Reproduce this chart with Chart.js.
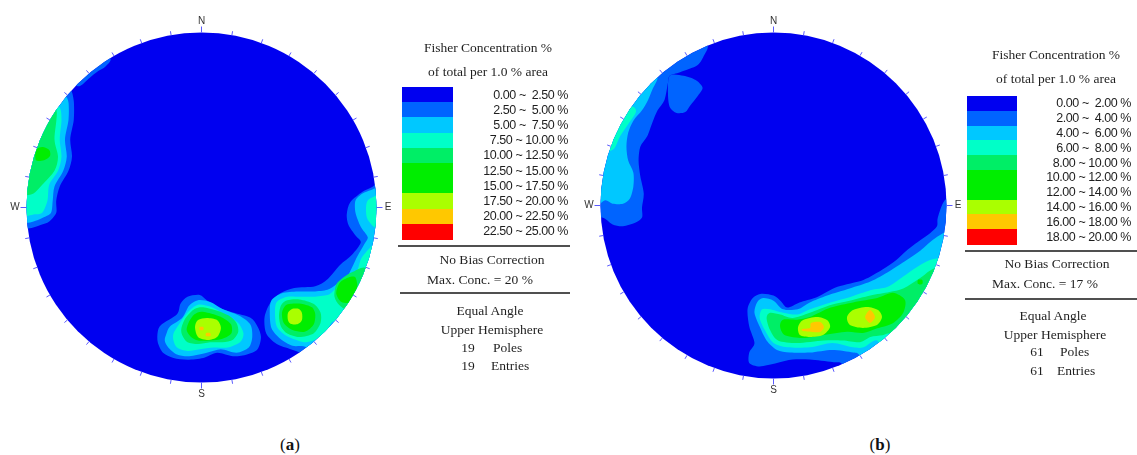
<!DOCTYPE html>
<html lang="en">
<head>
<meta charset="utf-8">
<title>Fisher concentration stereonets</title>
<script src="https://cdn.jsdelivr.net/npm/chart.js@4.4.1/dist/chart.umd.min.js"></script>
<style>
  html, body { margin: 0; padding: 0; background: #fff; }
  #page { position: relative; width: 1137px; height: 455px; overflow: hidden; background: #fff; }
  canvas.net { position: absolute; top: 0; }
  .t { position: absolute; white-space: pre; color: #1e1e1e; }
  .serif { font-family: 'Liberation Serif', 'Times New Roman', serif; font-size: 13.5px; line-height: 16px; }
  .sans { font-family: 'Liberation Sans', Arial, sans-serif; font-size: 12.5px; line-height: 14px; letter-spacing: -0.45px; }
  .rule { position: absolute; height: 1.5px; background: #505050; }
  .swatch { position: absolute; }
  .cap { position: absolute; font-family: 'Liberation Serif', 'Times New Roman', serif; font-size: 17px; line-height: 20px; width: 60px; text-align: center; color: #111; }
</style>
</head>
<body>
<div id="page">
  <canvas id="netA" class="net" width="400" height="416"></canvas>
  <canvas id="netB" class="net" width="400" height="416"></canvas>
</div>
<script>
// ---- contour classes (Fisher concentration, % of total per 1 % area) ----
const CLASS_COLORS = ['#0000F0', '#0064FF', '#00C8FF', '#00FFC8', '#00EE66',
                      '#00EE00', '#00EE00', '#AAFF00', '#FFC800', '#FF0000'];
const breaksA = [0, 2.5, 5, 7.5, 10, 12.5, 15, 17.5, 20, 22.5, 25];
const breaksB = [0, 2, 4, 6, 8, 10, 12, 14, 16, 18, 20];
const statsA = { maxConc: 20, poles: 19, entries: 19 };
const statsB = { maxConc: 17, poles: 61, entries: 61 };
const compassLabels = ['N', 'E', 'S', 'W'];

// ---- contour rings, net coordinates (primitive radius = 100, x east, y north) ----
// (a) 19 poles
const A_W1  = [[-81,73],[-75,68],[-73,61],[-73,50],[-75,39],[-74,29],[-76,21],[-81,12],[-83,4],[-83,-3],[-87,-8],[-92,-10],[-99,-12],[-110,-12],[-110,73]];
const A_NW1 = [[-72,70],[-68.5,70],[-64,74],[-59,78],[-55,80.5],[-52,85],[-60,90],[-80,80]];
const A_W2  = [[-84,67],[-78,64],[-76,60],[-76,50],[-78,39],[-77,29],[-79,21],[-84,12],[-85,4],[-86,-3],[-91,-6],[-96,-8],[-101,-9],[-110,-9],[-110,67]];
const A_W3  = [[-87,61],[-81,57],[-80,50],[-81,39],[-80,29],[-82,21],[-87,13],[-88,4],[-91,-3],[-96,-4],[-101,-5],[-110,-5],[-110,61]];
const A_W4  = [[-92,59],[-83,56],[-84,39],[-82,29],[-84,21],[-91,13],[-96,8],[-101,7],[-110,7],[-110,59]];
const A_W6  = [[-94.6,32.9],[-91,34.6],[-87,32.9],[-86.6,29.4],[-90,27],[-94.6,27]];

const A_E1  = [[102,16],[98,12],[92,9],[85,3],[83,-4],[84,-10],[88,-16],[91,-20],[86,-27],[79,-33],[72,-41],[65,-45],[53,-46],[45,-49],[39,-55],[36,-63],[37,-72],[43,-78],[51,-81],[58,-84],[68,-93],[113,-93],[113,16]];
const A_E2  = [[105,13],[97,10],[92,8],[88,4],[88,-3],[91,-11],[95,-17],[93,-21],[89,-28],[83,-40],[77,-44],[72,-47],[64,-48],[55,-48],[46,-49],[40,-53],[39,-60],[40,-69],[45,-75],[52,-79],[60,-80],[68,-90],[113,-90],[113,13]];
const A_E3a = [[105,10],[100,7],[95,4],[94,-1],[95,-7],[101,-12],[110,-5]];
const A_E3b = [[102,-19],[92,-28],[89,-36],[85,-40],[80,-43],[75,-48],[72,-50],[64,-51],[56,-51],[49,-51],[43,-54],[42,-60],[43,-68],[48,-73],[55,-76],[60,-77],[66,-75],[72,-70],[76,-65],[91,-70],[108,-30]];
const A_E4a = [[81,-40],[86,-37],[94,-35],[93,-53],[85,-59],[79,-56],[76,-51],[77,-44]];
const A_E4b = [[49,-53],[56,-52.5],[64,-55],[68,-60],[68,-66],[64,-72],[56,-74],[49,-72],[45.4,-68],[44.3,-62],[45.4,-56]];
const A_E6a = [[79,-43],[84,-40],[88,-40],[89,-47],[86,-54],[80,-54],[77,-49]];
const A_E6b = [[51,-55],[57,-55],[63,-57],[65,-61],[64,-67],[59,-71],[52,-70],[47,-66],[46,-60],[48,-56]];
const A_E7b = [[51.7,-58],[55.7,-58],[57.4,-60.3],[57.4,-64.3],[55.1,-66.6],[51.1,-66.6],[49.4,-64.3],[49.4,-60.3]];

const A_S1  = [[-25,-71],[-23,-67],[-14,-61],[-12,-55],[-8,-51],[-1,-50],[3,-53],[9,-57],[18,-60],[28,-63],[32,-68],[34,-74],[32,-81],[26,-84],[18,-85],[9,-83],[1,-86],[-8,-87],[-16,-86],[-22,-83],[-25,-77]];
const A_S2  = [[-20,-72],[-18,-68],[-11,-63],[-7,-56],[-2,-53],[5,-54],[12,-58],[22,-62],[28,-67],[29,-74],[27,-80],[20,-83],[11,-81],[3,-83],[-7,-85],[-14,-84],[-19,-80],[-21,-76]];
const A_S3  = [[-16,-72],[-13,-67],[-8,-60],[-2,-55.5],[6,-57],[15,-62],[21,-66],[24,-72],[22,-77],[15,-80],[7,-80],[-1,-81],[-8,-82],[-14,-80],[-16,-76]];
const A_S4  = [[-11.5,-69],[-9,-63],[-4,-58],[1,-57],[9,-59],[16,-62],[20,-66],[21,-71],[18,-75.5],[12,-77],[5,-77],[-2,-78],[-8,-77],[-11,-73]];
const A_S6  = [[-8.5,-70],[-7,-65],[-4,-61],[0,-59.5],[7,-61],[13,-63.5],[17,-67],[17,-72],[12,-75],[5,-76],[-2,-76],[-6,-74]];
const A_S7  = [[-3.7,-68.3],[-2,-64.3],[3.1,-63.1],[8.9,-64.3],[11.1,-68.9],[8.9,-74],[3.7,-75.7],[-2,-74]];
const A_S8a = [[-1,-68.3],[1,-68.3],[1,-70],[-1,-70]];
const A_S8b = [[2.6,-71.8],[5,-71.8],[5,-73.4],[2.6,-73.4]];

// (b) 61 poles
const B_W1  = [[-42,99],[-38,92],[-40,87],[-44,81],[-54,77],[-60,75],[-61,71],[-63,61],[-67,55],[-70,48],[-73,40],[-77,34],[-78,26],[-77,17],[-75,7],[-76,-1],[-76,-7],[-80,-10],[-87,-12],[-93,-11],[-99,-7],[-109,-8],[-109,61],[-77,96]];
const B_NW1 = [[-60,75],[-52,75],[-45,72.5],[-41,68],[-44,63],[-48,58],[-51,54],[-56,53.5],[-60,57],[-61,65]];
const B_W2  = [[-71,78],[-67,74],[-70,67],[-72.5,61],[-76,55],[-81,49],[-84,42],[-85,34],[-84,26],[-81,19],[-81,11],[-83,4],[-87,1],[-93,1],[-97,3],[-106,3],[-106,61],[-89,84]];
const B_W3  = [[-82,57.5],[-79.5,54],[-84,47],[-88.7,40],[-92,33],[-97,31],[-100,32],[-95,61]];

const B_SE1 = [[108,9],[99,3],[95,-7],[94.5,-12],[90.5,-16],[85,-20],[77,-26],[71,-31.5],[63,-37],[52,-43],[37,-47],[25,-53],[15,-56],[8,-59],[4,-55],[0,-52],[-7,-51],[-12,-53.5],[-15,-60],[-14,-70],[-11,-79.5],[-14,-85],[-14,-91],[-8,-93],[2,-91],[11,-89],[21,-89],[34,-90.5],[40,-92],[44,-107],[119,-107],[119,9]];
const B_SE2 = [[108,-11],[98,-16],[92,-20],[85,-26],[77,-31.5],[67,-38],[56,-44],[44,-48],[31,-52],[21,-56],[14,-60],[5.5,-60],[0,-55],[-6,-53.5],[-9.5,-56],[-11,-62],[-8,-70],[-4,-78],[2,-83.5],[9.5,-85],[21,-85],[34,-83.5],[46,-85],[50,-87],[56,-101],[119,-101],[119,-11]];
const B_SE3 = [[108,-26],[97,-30],[90.5,-31.5],[83,-35.5],[75,-41],[66,-47],[56,-49],[44,-53],[33,-56],[21,-60],[14,-63],[5.5,-62],[-2,-60],[-6.6,-60],[-8,-65],[-5,-72],[0,-79.5],[8,-82],[21,-82],[34,-79.5],[46,-82],[52,-82],[60,-78],[67,-89],[119,-89],[119,-26]];
const B_SE4 = [[102,-34],[91.6,-37],[86,-41],[75,-48],[67,-50],[56,-52],[44,-55],[33,-57.5],[21,-62],[11,-65],[4,-63],[-2,-62],[-4,-65],[-2,-72],[2.6,-78],[13.6,-79.5],[29,-78],[40,-78],[50,-79],[56,-76],[63,-75],[68.5,-74],[85,-78],[107,-55]];
const B_SE6 = [[69,-50.5],[60,-53.5],[46,-56],[33,-59],[21,-64.5],[13.6,-66],[5.5,-66],[3.8,-70],[6.6,-75],[17,-76.6],[28.6,-75],[42.5,-73],[51.7,-73.7],[60,-71],[69,-68],[75,-62],[76,-54.6]];
const B_SE6s = [[83.5,-43],[86,-43],[86,-45.4],[83.5,-45.4]];
const B_SE7a = [[14.2,-70.2],[17.1,-66.2],[25.1,-64.5],[30.9,-66.2],[32.7,-70.2],[28.6,-74.9],[21.1,-76],[15.3,-74.9]];
const B_SE7b = [[42.5,-64.5],[46,-60.4],[54,-58.7],[60.4,-60.4],[62.7,-64.5],[59.8,-69.1],[51.7,-70.8],[44.2,-69.1]];
const B_SE8a = [[21.7,-67.9],[26.9,-67.3],[29.2,-70.2],[26.9,-73.1],[22.3,-73.1],[17.1,-72.6],[16.5,-71.4],[21.1,-70.8]];
const B_SE8b = [[55.8,-60.4],[58.7,-64.5],[55.8,-67.9],[52.9,-64.5]];

// class index -> ring, painted low to high
const contoursA = [
  [1, A_W1], [1, A_NW1], [1, A_E1], [1, A_S1],
  [2, A_W2], [2, A_E2], [2, A_S2],
  [3, A_W3], [3, A_E3a], [3, A_E3b], [3, A_S3],
  [4, A_W4], [4, A_E4a], [4, A_E4b], [4, A_S4],
  [6, A_W6], [6, A_E6a], [6, A_E6b], [6, A_S6],
  [7, A_E7b], [7, A_S7],
  [8, A_S8a], [8, A_S8b]
];
const contoursB = [
  [1, B_W1], [1, B_NW1], [1, B_SE1],
  [2, B_W2], [2, B_SE2],
  [3, B_W3], [3, B_SE3],
  [4, B_SE4],
  [6, B_SE6], [6, B_SE6s],
  [7, B_SE7a], [7, B_SE7b],
  [8, B_SE8a], [8, B_SE8b]
];

// ---- drawing ----
const NET_R = 100;

// closed Catmull-Rom ring through the projected vertices
function traceRing(ctx, pts, k) {
  const n = pts.length;
  ctx.moveTo(pts[0][0], pts[0][1]);
  for (let i = 0; i < n; i++) {
    const p0 = pts[(i - 1 + n) % n], p1 = pts[i], p2 = pts[(i + 1) % n], p3 = pts[(i + 2) % n];
    ctx.bezierCurveTo(
      p1[0] + (p2[0] - p0[0]) * k, p1[1] + (p2[1] - p0[1]) * k,
      p2[0] - (p3[0] - p1[0]) * k, p2[1] - (p3[1] - p1[1]) * k,
      p2[0], p2[1]);
  }
  ctx.closePath();
}

const stereonet = {
  id: 'stereonet',
  beforeDatasetsDraw(chart) {
    const { ctx, scales: { x, y } } = chart;
    const cx = x.getPixelForValue(0), cy = y.getPixelForValue(0);
    const r = x.getPixelForValue(NET_R) - cx;
    ctx.save();
    ctx.beginPath();
    ctx.arc(cx, cy, r, 0, 2 * Math.PI);
    ctx.fillStyle = CLASS_COLORS[0];
    ctx.fill();
    ctx.clip();
    chart.data.datasets.forEach((ds, i) => {
      const pts = chart.getDatasetMeta(i).data.map(el => [el.x, el.y]);
      ctx.beginPath();
      traceRing(ctx, pts, 0.14);
      ctx.fillStyle = CLASS_COLORS[ds.cls];
      ctx.fill();
    });
    ctx.restore();
    return false;
  },
  afterDraw(chart) {
    const { ctx, scales: { x, y } } = chart;
    ctx.save();
    ctx.strokeStyle = '#5a5aff';
    ctx.lineWidth = 1;
    ctx.font = '10px "Liberation Sans", Arial, sans-serif';
    ctx.textAlign = 'center';
    ctx.textBaseline = 'middle';
    ctx.fillStyle = '#333';
    for (let az = 0; az < 360; az += 10) {
      const a = az * Math.PI / 180, s = Math.sin(a), c = Math.cos(a);
      const px = x.getPixelForValue(NET_R * s), py = y.getPixelForValue(NET_R * c);
      const major = az % 90 === 0;
      const len = major ? 6 : 4;
      ctx.beginPath();
      ctx.moveTo(px, py);
      ctx.lineTo(px + len * s, py - len * c);
      ctx.stroke();
      if (major) ctx.fillText(compassLabels[az / 90], px + 11.5 * s, py - 11.5 * c);
    }
    ctx.restore();
  }
};

function drawNet(canvasId, contours, net) {
  const canvas = document.getElementById(canvasId);
  canvas.style.left = net.left + 'px';
  const k = NET_R / net.r;
  const lx = net.cx - net.left;
  const view = {
    x: [(0 - lx) * k, (canvas.width - lx) * k],
    y: [(net.cy - canvas.height) * k, net.cy * k]
  };
  const datasets = contours.map(([cls, ring]) => ({
    data: ring.map(([px, py]) => ({ x: px, y: py })),
    cls, pointRadius: 0, pointHoverRadius: 0, borderWidth: 0, showLine: false
  }));
  return new Chart(canvas, {
    type: 'scatter',
    data: { datasets },
    options: {
      responsive: false, animation: false, events: [],
      layout: { padding: 0, autoPadding: false },
      plugins: { legend: { display: false }, tooltip: { enabled: false } },
      scales: {
        x: { type: 'linear', min: view.x[0], max: view.x[1], display: false },
        y: { type: 'linear', min: view.y[0], max: view.y[1], display: false }
      }
    },
    plugins: [stereonet]
  });
}

function buildLegend(page, breaks, stats, L) {
  const add = (cls, text, style) => {
    const d = document.createElement('div');
    d.className = cls;
    d.textContent = text;
    Object.assign(d.style, style);
    page.appendChild(d);
    return d;
  };
  const centred = (text, cx, cy) =>
    add('t serif', text, { left: (cx - 100) + 'px', width: '200px', textAlign: 'center', top: (cy - 8) + 'px' });
  const rule = (x0, x1, yy) =>
    add('rule', '', { left: x0 + 'px', width: (x1 - x0) + 'px', top: (yy - 0.75) + 'px' });

  centred('Fisher Concentration %', L.cx, L.title1);
  centred('of total per 1.0 % area', L.cx, L.title2);
  for (let i = 0; i < breaks.length - 1; i++) {
    const top = L.boxTop + i * L.rowH;
    add('swatch', '', { left: L.boxLeft + 'px', top: top + 'px', width: L.boxW + 'px',
                        height: (L.rowH + 0.6) + 'px', background: CLASS_COLORS[i] });
    const lo = breaks[i].toFixed(2), hi = breaks[i + 1].toFixed(2).padStart(5, ' ');
    add('t sans', `${lo} ~ ${hi} %`, { left: (L.labelRight - 160) + 'px', width: '160px',
                                     textAlign: 'right', top: (top + L.rowH / 2 - 7) + 'px' });
  }
  rule(L.rule1[0], L.rule1[1], L.rule1[2]);
  centred('No Bias Correction', L.noBiasCx, L.noBiasY);
  centred(`Max. Conc. = ${stats.maxConc} %`, L.maxCx, L.maxY);
  rule(L.rule2[0], L.rule2[1], L.rule2[2]);
  centred('Equal Angle', L.eqCx, L.eqY);
  centred('Upper Hemisphere', L.upCx, L.upY);
  centred(String(stats.poles), L.numCx, L.polesY);
  add('t serif', 'Poles', { left: L.polesL + 'px', top: (L.polesY - 8) + 'px' });
  centred(String(stats.entries), L.numCx, L.entriesY);
  add('t serif', 'Entries', { left: L.entriesL + 'px', top: (L.entriesY - 8) + 'px' });
}

function caption(page, letter, cx, cy) {
  const d = document.createElement('div');
  d.className = 'cap';
  d.style.left = (cx - 30) + 'px';
  d.style.top = (cy - 10) + 'px';
  d.append('(');
  const b = document.createElement('b');
  b.textContent = letter;
  d.append(b, ')');
  page.appendChild(d);
}

const page = document.getElementById('page');
drawNet('netA', contoursA, { left: 0, cx: 201.5, cy: 207.5, r: 175 });
drawNet('netB', contoursB, { left: 575, cx: 773.5, cy: 205.5, r: 173 });

buildLegend(page, breaksA, statsA, {
  cx: 488, title1: 48, title2: 72,
  boxLeft: 402, boxW: 51, boxTop: 87, rowH: 15.2, labelRight: 568,
  rule1: [398, 570, 246], noBiasCx: 492, noBiasY: 260, maxCx: 480, maxY: 280,
  rule2: [400, 570, 293], eqCx: 490, eqY: 311, upCx: 492, upY: 330,
  numCx: 468, polesY: 348, entriesY: 366, polesL: 493, entriesL: 491
});
buildLegend(page, breaksB, statsB, {
  cx: 1056, title1: 55, title2: 79,
  boxLeft: 967, boxW: 50, boxTop: 96, rowH: 14.8, labelRight: 1131,
  rule1: [965, 1137, 251], noBiasCx: 1057, noBiasY: 264, maxCx: 1045, maxY: 284,
  rule2: [965, 1137, 299], eqCx: 1053, eqY: 316, upCx: 1055, upY: 335,
  numCx: 1037, polesY: 352, entriesY: 371, polesL: 1060, entriesL: 1057
});
caption(page, 'a', 290, 445);
caption(page, 'b', 880, 445);
</script>
</body>
</html>
